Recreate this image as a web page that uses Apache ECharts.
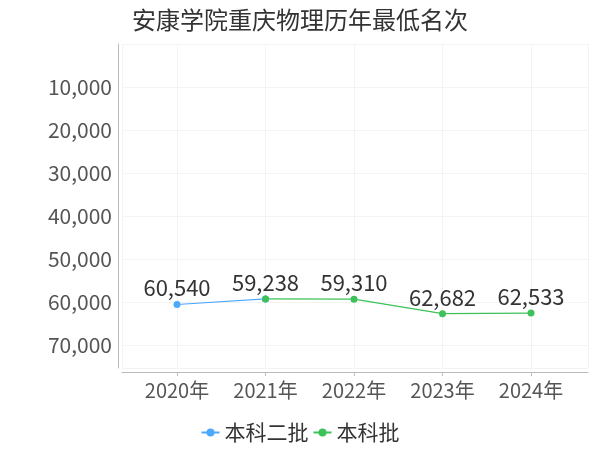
<!DOCTYPE html>
<html><head><meta charset="utf-8">
<script src="https://cdn.jsdelivr.net/npm/echarts@6/dist/echarts.min.js"></script>
<style>html,body{margin:0;padding:0;background:#fff}#c{width:600px;height:450px}</style>
</head><body><div id="c"></div>
<script>
var years = ['2020年','2021年','2022年','2023年','2024年'];
var seriesNames = ['本科二批','本科批'];
var erpi = [60540, 59238, null, null, null];
var benke = [null, 59238, 59310, 62682, 62533];
var colors = ['#4ea8fb','#3dc25a'];

function toPairs(arr){ var out=[]; for(var i=0;i<arr.length;i++){ out.push([i, arr[i]]); } return out; }
var font = '"Noto Sans CJK SC","Noto Sans",sans-serif';
var yMax = 75300;
var chart = echarts.init(document.getElementById('c'));
chart.setOption({
  animation:false,
  textStyle:{fontFamily:font},
  title:{text:'安康学院重庆物理历年最低名次',left:127,top:3,textStyle:{fontSize:24,fontWeight:'normal',color:'#333',fontFamily:font}},
  legend:{bottom:2,left:'center',itemGap:4,itemWidth:18,itemHeight:10,textStyle:{fontSize:21,color:'#333',fontFamily:font},data:seriesNames},
  grid:[
    {left:122,right:12,top:44,bottom:82},
    {left:177,right:69,top:44,bottom:82}
  ],
  xAxis:[
    {gridIndex:0,type:'value',min:0,max:1,interval:1,offset:4,
     axisLine:{onZero:false,lineStyle:{color:'#bbb'}},axisTick:{show:false},axisLabel:{show:false},
     splitLine:{show:true,lineStyle:{color:'#f3f3f3'}}},
    {gridIndex:1,type:'value',min:0,max:years.length-1,interval:1,offset:4,
     axisLine:{show:false,onZero:false},
     axisTick:{show:true,lineStyle:{color:'#bbb'},length:4},
     axisLabel:{fontSize:20,color:'#555',margin:8,fontFamily:font,
       formatter:function(v){ return years[Math.round(v)] || ''; }},
     splitLine:{show:true,lineStyle:{color:'#f3f3f3'}}}
  ],
  yAxis:[
    {gridIndex:0,type:'value',inverse:true,min:0,max:yMax,interval:10000,offset:4,
     axisLine:{show:true,onZero:false,lineStyle:{color:'#bbb'}},
     axisTick:{show:false},
     axisLabel:{fontSize:21,color:'#555',margin:6,fontFamily:font,
       formatter:function(v){ return (v===0||v%10000!==0)?'':v.toLocaleString('en-US'); }},
     splitLine:{show:true,lineStyle:{color:'#f3f3f3'}}},
    {gridIndex:1,type:'value',inverse:true,min:0,max:yMax,interval:10000,
     axisLine:{show:false},axisTick:{show:false},axisLabel:{show:false},splitLine:{show:false}}
  ],
  series:[
    {name:seriesNames[0],type:'line',xAxisIndex:1,yAxisIndex:1,data:toPairs(erpi),color:colors[0],symbol:'circle',symbolSize:7,
     lineStyle:{width:1.2},connectNulls:false,
     label:{show:true,position:'top',fontSize:22,color:'#333',distance:2,
       formatter:function(p){ return benke[p.dataIndex]==null ? p.value[1].toLocaleString('en-US') : ''; }}},
    {name:seriesNames[1],type:'line',xAxisIndex:1,yAxisIndex:1,data:toPairs(benke),color:colors[1],symbol:'circle',symbolSize:7,
     lineStyle:{width:1.2},connectNulls:false,
     label:{show:true,position:'top',fontSize:22,color:'#333',distance:2,formatter:function(p){return p.value[1].toLocaleString('en-US');}}}
  ]
});
</script></body></html>
